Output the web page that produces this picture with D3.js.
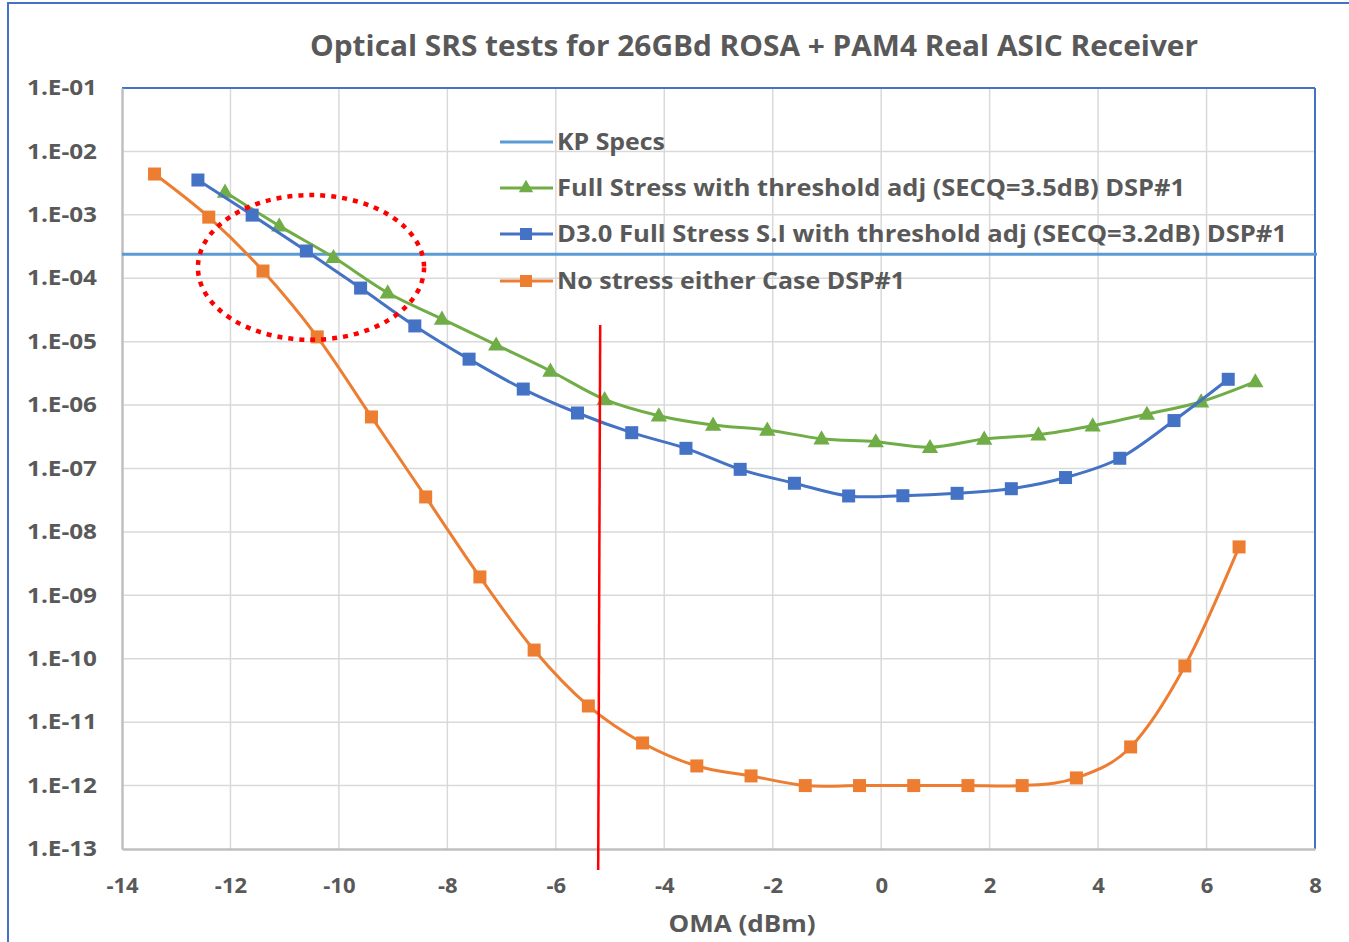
<!DOCTYPE html>
<html><head><meta charset="utf-8">
<script src="https://cdn.jsdelivr.net/npm/d3@7"></script>
<style>html,body{margin:0;padding:0;background:#fff;}svg{display:block;font-family:"Open Sans",sans-serif;}</style>
</head><body>
<script>
// ---- data ----
const titleText = "Optical SRS tests for 26GBd ROSA + PAM4 Real ASIC Receiver";
const xAxisTitle = "OMA (dBm)";
const xTicks = [-14,-12,-10,-8,-6,-4,-2,0,2,4,6,8];
const xTickLabels = ["-14","-12","-10","-8","-6","-4","-2","0","2","4","6","8"];
const yTicks = [1e-1,1e-2,1e-3,1e-4,1e-5,1e-6,1e-7,1e-8,1e-9,1e-10,1e-11,1e-12,1e-13];
const yTickLabels = ["1.E-01","1.E-02","1.E-03","1.E-04","1.E-05","1.E-06","1.E-07","1.E-08","1.E-09","1.E-10","1.E-11","1.E-12","1.E-13"];
const seriesNames = ["KP Specs","Full Stress with threshold adj (SECQ=3.5dB) DSP#1","D3.0 Full Stress S.I with threshold adj (SECQ=3.2dB) DSP#1","No stress either Case DSP#1"];
const kpSpec = 2.4e-4;

const greenX = [-12.1,-11.1,-10.1,-9.1,-8.1,-7.1,-6.1,-5.1,-4.1,-3.1,-2.1,-1.1,-0.1,0.9,1.9,2.9,3.9,4.9,5.9,6.9];
const greenY = [2.29e-3,6.7e-4,2.14e-4,5.9e-5,2.28e-5,8.9e-6,3.45e-6,1.23e-6,6.8e-7,4.85e-7,4.05e-7,2.95e-7,2.65e-7,2.16e-7,2.92e-7,3.41e-7,4.73e-7,7.2e-7,1.13e-6,2.34e-6];

const blueX = [-12.6,-11.6,-10.6,-9.6,-8.6,-7.6,-6.6,-5.6,-4.6,-3.6,-2.6,-1.6,-0.6,0.4,1.4,2.4,3.4,4.4,5.4,6.4];
const blueY = [3.54e-3,9.9e-4,2.69e-4,7.0e-5,1.77e-5,5.3e-6,1.79e-6,7.5e-7,3.67e-7,2.08e-7,9.7e-8,5.85e-8,3.69e-8,3.72e-8,4.06e-8,4.8e-8,7.2e-8,1.45e-7,5.7e-7,2.55e-6];

const orangeX = [-13.4,-12.4,-11.4,-10.4,-9.4,-8.4,-7.4,-6.4,-5.4,-4.4,-3.4,-2.4,-1.4,-0.4,0.6,1.6,2.6,3.6,4.6,5.6,6.6];
const orangeY = [4.4e-3,9.2e-4,1.3e-4,1.19e-5,6.5e-7,3.56e-8,1.95e-9,1.37e-10,1.8e-11,4.7e-12,2.04e-12,1.42e-12,1.0e-12,1.0e-12,1.0e-12,1.0e-12,1.0e-12,1.32e-12,4.07e-12,7.7e-11,5.8e-9];

// annotations (data units)
const redLineX = -5.2;
const redLineTop = 1.83e-5;
const ellipseX = [-12.6,-8.43];
const ellipseY = [2.05e-3,1.07e-5];

// ---- layout ----
const W = 1349, H = 942;
const m = {left:122, right:1315, top:88, bottom:849};
const C = {grid:"#D9D9D9", axis:"#BFBFBF", text:"#595959", border:"#4472C4",
  kp:"#5B9BD5", green:"#70AD47", blue:"#4472C4", orange:"#ED7D31", red:"#FF0000"};
const legWidths = [108,628,730,348];

const svg = d3.select("body").append("svg").attr("width",W).attr("height",H);

// outer chart border (left + top visible)
svg.append("rect").attr("x",8).attr("y",3).attr("width",W+20).attr("height",H+20)
  .attr("fill","#fff").attr("stroke",C.border).attr("stroke-width",2);

const x = d3.scaleLinear().domain([-14,8]).range([m.left,m.right]);
const y = d3.scaleLog().domain([1e-1,1e-13]).range([m.top,m.bottom]);

// gridlines
svg.append("g").selectAll("line").data(xTicks.slice(1,-1)).join("line")
  .attr("x1",d=>x(d)).attr("x2",d=>x(d)).attr("y1",m.top).attr("y2",m.bottom)
  .attr("stroke",C.grid).attr("stroke-width",1.5);
svg.append("g").selectAll("line").data(yTicks.slice(1,-1)).join("line")
  .attr("x1",m.left).attr("x2",m.right).attr("y1",d=>y(d)).attr("y2",d=>y(d))
  .attr("stroke",C.grid).attr("stroke-width",1.5);

// plot border: top & right blue
svg.append("line").attr("x1",m.left).attr("x2",m.right).attr("y1",m.top).attr("y2",m.top).attr("stroke",C.border).attr("stroke-width",2);
svg.append("line").attr("x1",m.right).attr("x2",m.right).attr("y1",m.top).attr("y2",m.bottom).attr("stroke",C.border).attr("stroke-width",2);

// axes via d3
const xAxis = d3.axisBottom(x).tickValues(xTicks).tickSize(0).tickFormat((d,i)=>xTickLabels[i]);
const gx = svg.append("g").attr("transform",`translate(0,${m.bottom})`).call(xAxis);
gx.select(".domain").attr("stroke",C.axis).attr("stroke-width",2.5);
gx.selectAll("text").attr("fill",C.text).attr("font-size",22).attr("font-weight",700)
  .attr("font-family","'Open Sans',sans-serif").attr("dy","0.35em").attr("y",36);

const yAxis = d3.axisLeft(y).tickValues(yTicks).tickSize(0).tickPadding(25)
  .tickFormat((d,i)=>yTickLabels[i]);
const gy = svg.append("g").attr("transform",`translate(${m.left},0)`).call(yAxis);
gy.select(".domain").attr("stroke",C.axis).attr("stroke-width",2.5);
gy.selectAll("text").attr("fill",C.text).attr("font-size",21).attr("font-weight",700)
  .attr("font-family","'Open Sans',sans-serif").attr("textLength",70).attr("lengthAdjust","spacingAndGlyphs");

// KP spec line
svg.append("line").attr("x1",m.left).attr("x2",m.right+2).attr("y1",y(kpSpec)).attr("y2",y(kpSpec))
  .attr("stroke",C.kp).attr("stroke-width",3);

const line = d3.line().x(d=>x(d[0])).y(d=>y(d[1])).curve(d3.curveCatmullRom.alpha(0));
const tri = d3.symbol().type(d3.symbolTriangle).size(115);

function drawSeries(xs, ys, color, marker){
  const pts = xs.map((v,i)=>[v,ys[i]]);
  svg.append("path").datum(pts).attr("d",line).attr("fill","none").attr("stroke",color).attr("stroke-width",3);
  const g = svg.append("g");
  if(marker==="square"){
    g.selectAll("rect").data(pts).join("rect")
      .attr("x",d=>x(d[0])-6.5).attr("y",d=>y(d[1])-6.5).attr("width",13).attr("height",13)
      .attr("fill",color);
  } else {
    g.selectAll("path").data(pts).join("path").attr("d",tri)
      .attr("transform",d=>`translate(${x(d[0])},${y(d[1])+1})`).attr("fill",color);
  }
}
drawSeries(greenX, greenY, C.green, "triangle");
drawSeries(blueX, blueY, C.blue, "square");
drawSeries(orangeX, orangeY, C.orange, "square");

// red dotted ellipse annotation
const ecx = (x(ellipseX[0])+x(ellipseX[1]))/2, ecy = (y(ellipseY[0])+y(ellipseY[1]))/2;
svg.append("ellipse").attr("cx",ecx).attr("cy",ecy)
  .attr("rx",(x(ellipseX[1])-x(ellipseX[0]))/2).attr("ry",(y(ellipseY[1])-y(ellipseY[0]))/2)
  .attr("fill","none").attr("stroke",C.red).attr("stroke-width",4.5).attr("stroke-dasharray","5,6");

// red vertical line
svg.append("line").attr("x1",x(redLineX)+1).attr("x2",x(redLineX)-1).attr("y1",y(redLineTop)).attr("y2",m.bottom+21)
  .attr("stroke",C.red).attr("stroke-width",2.5);

// legend
const legY = [142,188,234,281];
const legColors = [C.kp,C.green,C.blue,C.orange];
const legMarkers = [null,"triangle","square","square"];
const lg = svg.append("g");
seriesNames.forEach((name,i)=>{
  lg.append("line").attr("x1",500).attr("x2",553).attr("y1",legY[i]).attr("y2",legY[i])
    .attr("stroke",legColors[i]).attr("stroke-width",3);
  if(legMarkers[i]==="square") lg.append("rect").attr("x",520).attr("y",legY[i]-6).attr("width",12).attr("height",12).attr("fill",legColors[i]);
  if(legMarkers[i]==="triangle") lg.append("path").attr("d",d3.symbol().type(d3.symbolTriangle).size(90)).attr("transform",`translate(526,${legY[i]})`).attr("fill",legColors[i]);
  lg.append("text").attr("x",557).attr("y",legY[i]).attr("dy","0.35em").text(name)
    .attr("fill",C.text).attr("font-size",24).attr("font-weight",700)
    .attr("textLength",legWidths[i]).attr("lengthAdjust","spacingAndGlyphs");
});

// title
svg.append("text").attr("x",754).attr("y",46).attr("dy","0.35em").attr("text-anchor","middle")
  .text(titleText).attr("fill",C.text).attr("font-size",29).attr("font-weight",700)
  .attr("textLength",888).attr("lengthAdjust","spacingAndGlyphs");
// x axis title
svg.append("text").attr("x",742).attr("y",924).attr("dy","0.35em").attr("text-anchor","middle")
  .text(xAxisTitle).attr("fill",C.text).attr("font-size",24).attr("font-weight",700)
  .attr("textLength",147).attr("lengthAdjust","spacingAndGlyphs");
</script>
</body></html>
